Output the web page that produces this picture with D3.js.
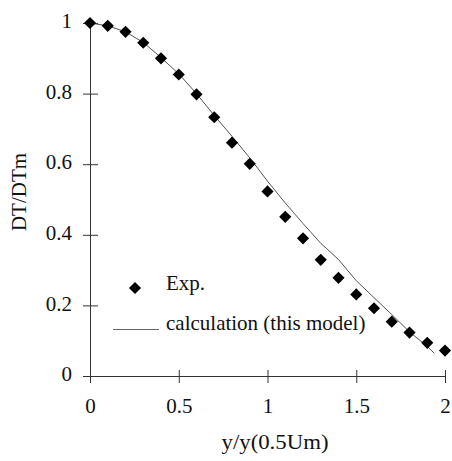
<!DOCTYPE html>
<html><head><meta charset="utf-8">
<script src="https://cdn.jsdelivr.net/npm/d3@7/dist/d3.min.js"></script>
<style>body{margin:0;background:#fff}svg{display:block}text{font-family:"Liberation Serif","Times New Roman",serif;fill:#111}</style>
</head><body><svg id="c" width="452" height="461"></svg>
<script>
const expX = [0,0.1,0.2,0.3,0.4,0.5,0.6,0.7,0.8,0.9,1.0,1.1,1.2,1.3,1.4,1.5,1.6,1.7,1.8,1.9,2.0];
const expY = [1.0,0.992,0.975,0.944,0.900,0.854,0.798,0.733,0.661,0.601,0.523,0.451,0.390,0.329,0.278,0.231,0.192,0.154,0.123,0.094,0.072];
const calcX = [0,0.1,0.2,0.3,0.4,0.5,0.6,0.7,0.8,0.9,1.0,1.1,1.2,1.3,1.4,1.5,1.6,1.7,1.8,1.9,1.94];
const calcY = [1.0,0.992,0.975,0.945,0.902,0.856,0.800,0.738,0.679,0.618,0.552,0.490,0.432,0.376,0.330,0.270,0.222,0.174,0.125,0.084,0.064];
const xTicks = [0,0.5,1,1.5,2];
const xTickLabels = ["0","0.5","1","1.5","2"];
const yTicks = [0,0.2,0.4,0.6,0.8,1];
const yTickLabels = ["0","0.2","0.4","0.6","0.8","1"];
const xTitle = "y/y(0.5Um)";
const yTitle = "DT/DTm";
const legendLabels = ["Exp.","calculation (this model)"];

const svg = d3.select("#c");
const m = {l:90, r:7, t:23, b:85};
const W = 452, H = 461;
const x = d3.scaleLinear().domain([0,2]).range([m.l, W-m.r]);
const y = d3.scaleLinear().domain([0,1]).range([H-m.b, m.t]);
const axisColor = "#333";

// x axis
const gx = svg.append("g").attr("transform",`translate(0,${y(0)})`)
  .call(d3.axisBottom(x).tickValues(xTicks).tickFormat((d,i)=>xTickLabels[i]).tickSizeOuter(0));
gx.select(".domain").attr("stroke",axisColor);
gx.selectAll(".tick line").attr("y1",-6).attr("y2",7).attr("stroke",axisColor);
gx.selectAll(".tick text").attr("y",37).attr("dy",null).attr("font-size",21)
  .style("font-family","'Liberation Serif',serif").attr("fill","#111");

// y axis
const gy = svg.append("g").attr("transform",`translate(${x(0)},0)`)
  .call(d3.axisLeft(y).tickValues(yTicks).tickFormat((d,i)=>yTickLabels[i]).tickSizeOuter(0));
gy.select(".domain").attr("stroke",axisColor);
gy.selectAll(".tick line").attr("x1",-7).attr("x2",8).attr("stroke",axisColor);
gy.selectAll(".tick text").attr("x",-18).attr("dy","0.22em").attr("font-size",21)
  .style("font-family","'Liberation Serif',serif").attr("fill","#111");
gy.selectAll(".tick").filter(d=>d===0).select("line").attr("x2",0);
gx.selectAll(".tick").filter(d=>d===0).select("line").attr("y1",0);

// titles
svg.append("text").attr("x",275).attr("y",449).attr("text-anchor","middle")
  .attr("font-size",21).attr("textLength",107).attr("lengthAdjust","spacingAndGlyphs").text(xTitle);
svg.append("text").attr("transform","translate(26,192) rotate(-90)").attr("text-anchor","middle")
  .attr("font-size",21).text(yTitle);

// calc line
const calc = calcX.map((d,i)=>[d,calcY[i]]);
svg.append("path").datum(calc).attr("fill","none").attr("stroke","#555").attr("stroke-width",1)
  .attr("d", d3.line().x(d=>x(d[0])).y(d=>y(d[1])));

// exp points
const diamond = d3.symbol().type(d3.symbolSquare).size(74);
svg.append("g").selectAll("path").data(expX.map((d,i)=>[d,expY[i]])).join("path")
  .attr("d", diamond).attr("fill","#000")
  .attr("transform", d=>`translate(${x(d[0])},${y(d[1])}) rotate(45)`);

// legend
svg.append("path").attr("d",diamond).attr("fill","#000").attr("transform","translate(135,288) rotate(45)");
svg.append("text").attr("x",166).attr("y",290).attr("font-size",21).text(legendLabels[0]);
svg.append("line").attr("x1",113).attr("x2",159).attr("y1",329.5).attr("y2",329.5).attr("stroke","#666").attr("stroke-width",1);
svg.append("text").attr("x",166).attr("y",330).attr("font-size",21).text(legendLabels[1]);
</script></body></html>
